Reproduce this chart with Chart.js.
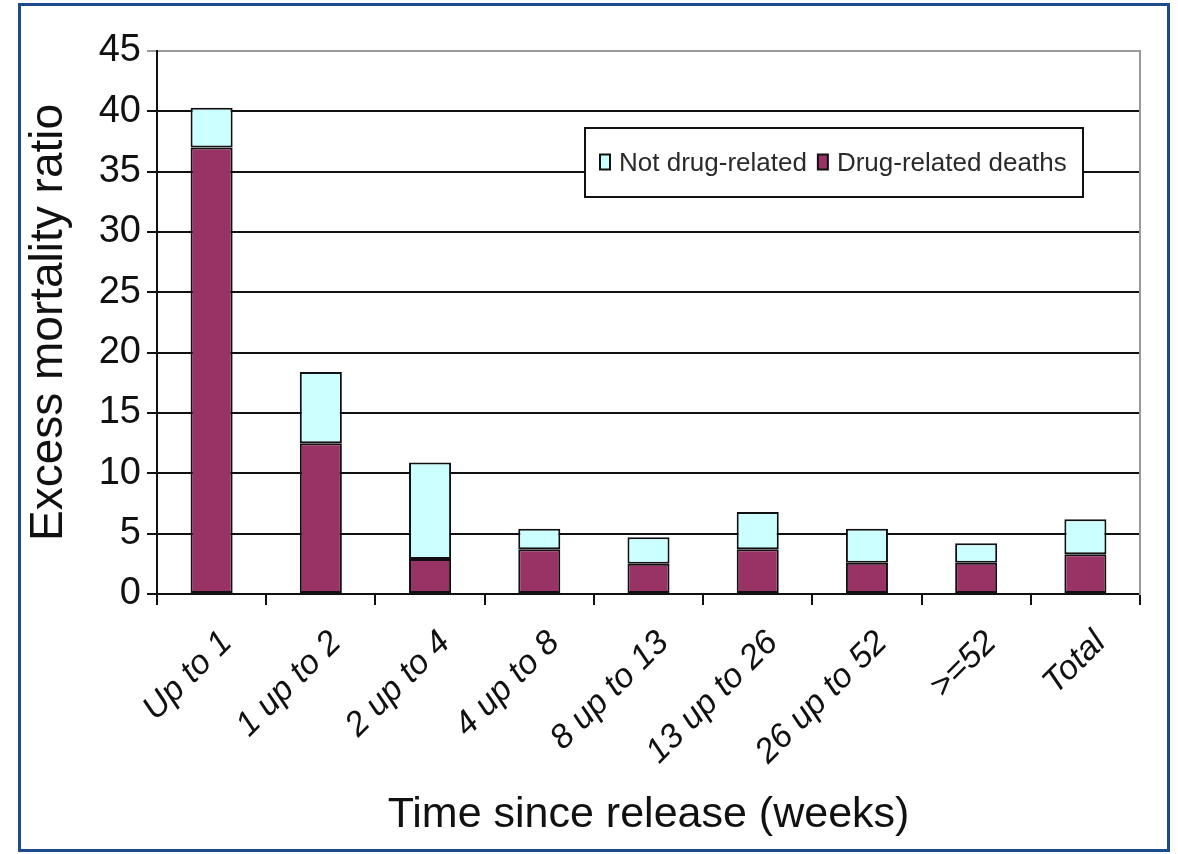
<!DOCTYPE html>
<html><head><meta charset="utf-8">
<script src="https://cdn.jsdelivr.net/npm/chart.js@4.4.0/dist/chart.umd.min.js"></script>
<style>
html,body{margin:0;padding:0;background:#fff;}
#frame{position:absolute;left:18px;top:3px;width:1146px;height:843px;border:3px solid #1d4a8a;background:#fff;}
#wrap{position:relative;width:1146px;height:843px;}
</style></head><body>
<div id="frame"><div id="wrap"><canvas id="c"></canvas></div></div>
<script>
const categories = ['Up to 1', '1 up to 2', '2 up to 4', '4 up to 8', '8 up to 13', '13 up to 26', '26 up to 52', '>=52', 'Total'];
const drugRelated = [37.0, 12.5, 2.9, 3.7, 2.5, 3.7, 2.6, 2.6, 3.3];
const notDrugRelated = [3.3, 5.9, 8.0, 1.7, 2.2, 3.1, 2.8, 1.6, 2.9];
const yTicks = [0, 5, 10, 15, 20, 25, 30, 35, 40, 45];

const FONT = "'Liberation Sans', Arial, sans-serif";

const legendBox = {
  id: 'legendBox',
  afterDraw(chart) {
    const { ctx, chartArea: a } = chart;
    const x = a.left + 428, y = a.top + 77, w = 498, h = 69;
    ctx.save();
    ctx.fillStyle = '#fff';
    ctx.fillRect(x, y, w, h);
    ctx.strokeStyle = '#111';
    ctx.lineWidth = 2;
    ctx.strokeRect(x, y, w, h);
    ctx.font = '26px ' + FONT;
    ctx.textBaseline = 'middle';
    const cy = y + h / 2;
    const items = [chart.data.datasets[1], chart.data.datasets[0]];
    let cx = x + 15;
    items.forEach(ds => {
      ctx.fillStyle = ds.backgroundColor;
      ctx.fillRect(cx, cy - 8, 10, 15);
      ctx.strokeStyle = '#111';
      ctx.lineWidth = 2;
      ctx.strokeRect(cx, cy - 8, 10, 15);
      ctx.fillStyle = '#2a2a2a';
      ctx.fillText(ds.label, cx + 19, cy + 1);
      cx += 19 + ctx.measureText(ds.label).width + 11;
    });
    ctx.restore();
  }
};

new Chart(document.getElementById('c'), {
  type: 'bar',
  data: {
    labels: categories,
    datasets: [
      { label: 'Drug-related deaths', data: drugRelated, backgroundColor: '#993366', borderColor: '#111', borderWidth: 2, borderSkipped: false },
      { label: 'Not drug-related', data: notDrugRelated, backgroundColor: '#ccffff', borderColor: '#111', borderWidth: 2, borderSkipped: false }
    ]
  },
  options: {
    responsive: true,
    maintainAspectRatio: false,
    animation: false,
    datasets: { bar: { barPercentage: 0.385, categoryPercentage: 1 } },
    layout: { padding: { left: 1, right: 27, top: 45, bottom: 4 } },
    plugins: { legend: { display: false }, tooltip: { enabled: false } },
    scales: {
      x: {
        stacked: true,
        offset: true,
        grid: { display: true, offset: true, drawOnChartArea: false, drawTicks: true, tickLength: 11, color: '#111', lineWidth: 2 },
        border: { display: true, color: '#111', width: 2 },
        ticks: { color: '#111', font: { family: FONT, size: 34, style: 'italic' }, minRotation: 45, maxRotation: 45, autoSkip: false, padding: 18, labelOffset: 15 },
        title: { display: true, text: 'Time since release (weeks)', color: '#111', font: { family: FONT, size: 43 }, padding: { top: 0, bottom: 4 } },
        afterFit: s => { s.height = 251; }
      },
      y: {
        stacked: true,
        min: 0, max: 45,
        afterBuildTicks: s => { s.ticks = yTicks.map(v => ({ value: v })); },
        grid: { color: ctx => (ctx.tick && ctx.tick.value === 45 ? '#9a9a9a' : '#111'), lineWidth: 2, tickLength: 10 },
        border: { display: true, color: '#111', width: 2 },
        ticks: { color: '#111', font: { family: FONT, size: 38 }, padding: 6 },
        title: { display: true, text: 'Excess mortality ratio', color: '#111', font: { family: FONT, size: 46 }, padding: { top: 0, bottom: 0 } },
        afterFit: s => { s.width = 135; }
      },
      y1: {
        position: 'right',
        min: 0, max: 45,
        grid: { display: false, drawTicks: false },
        border: { display: true, color: '#9a9a9a', width: 2 },
        ticks: { display: false },
        afterFit: s => { s.width = 0; }
      }
    }
  },
  plugins: [legendBox]
});
</script>
</body></html>
